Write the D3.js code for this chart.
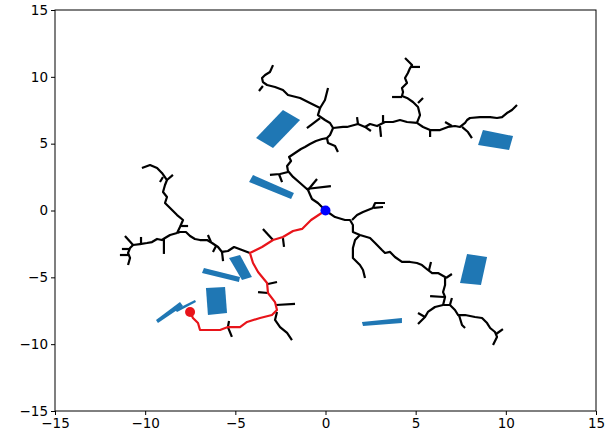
<!DOCTYPE html>
<html><head><meta charset="utf-8">
<script src="https://cdn.jsdelivr.net/npm/d3@7"></script>
<style>body{margin:0;background:#fff} text{font-family:"DejaVu Sans",sans-serif;}</style>
</head><body><svg id="c" width="615" height="439"></svg>
<script>
const xTicks=[-15,-10,-5,0,5,10,15];
const yTicks=[-15,-10,-5,0,5,10,15];

// obstacle polygons (data units)
const obstacles=[
 [[-2.36,7.52],[-1.41,6.77],[-2.91,4.68],[-3.85,5.42]],
 [[-4.02,2.66],[-1.75,1.31],[-1.91,0.86],[-4.24,2.13]],
 [[-6.74,-4.30],[-4.74,-4.97],[-4.80,-5.35],[-6.85,-4.68]],
 [[-5.35,-3.55],[-4.74,-3.33],[-4.08,-4.97],[-4.63,-5.20]],
 [[-6.63,-5.80],[-5.57,-5.72],[-5.46,-7.67],[-6.52,-7.82]],
 [[-9.40,-8.19],[-8.07,-6.85],[-7.90,-7.14],[-9.29,-8.42]],
 [[-8.35,-7.44],[-7.24,-6.70],[-7.18,-6.85],[-8.23,-7.59]],
 [[7.85,-3.25],[8.96,-3.48],[8.62,-5.57],[7.46,-5.42]],
 [[2.02,-8.34],[4.24,-8.04],[4.24,-8.42],[2.08,-8.64]],
 [[8.73,6.02],[10.40,5.57],[10.18,4.53],[8.46,4.90]]
];

// tree branches (data units)
const treeBranches=[
 [[0,0],[-0.42,0.56],[-0.75,0.86],[-0.97,1.53],[-1.41,2.06],[-1.80,2.51],[-2.08,2.95],[-2.13,3.33],[-1.91,3.70],[-2.02,4.00],[-1.69,4.30],[-1.36,4.60],[-1.14,4.75],[-0.86,4.97],[-0.53,5.20],[-0.19,5.35],[0.08,5.42],[0.25,5.65],[0.42,6.17]],
 [[-0.97,1.53],[-0.47,2.36]],
 [[-1.08,1.61],[0.30,1.83]],
 [[-2.08,2.88],[-2.52,2.73],[-3.08,2.66]],
 [[-2.58,2.73],[-2.41,2.13]],
 [[0.08,5.42],[0.14,5.05],[0.53,4.83],[0.69,4.38]],
 [[0.42,6.17],[0.25,6.55],[-0.03,6.77],[-0.42,7.14],[-0.30,7.67],[-0.86,8.04],[-1.41,8.42],[-2.08,8.64],[-2.36,9.01],[-2.80,9.24],[-3.24,9.39],[-3.47,9.61],[-3.52,9.91],[-3.35,10.14],[-3.08,10.36],[-2.91,10.88]],
 [[-0.30,7.67],[-0.03,8.27],[0.14,9.16]],
 [[-3.47,9.31],[-3.69,8.94]],
 [[-0.30,6.92],[-1.03,6.17]],
 [[0.42,6.17],[0.97,6.25],[1.19,6.25],[1.80,6.47],[2.19,6.25],[2.47,6.47],[2.86,6.32],[3.30,6.62],[3.74,6.62],[4.13,6.77],[4.52,6.62],[5.07,6.55]],
 [[1.80,6.47],[1.75,6.99]],
 [[2.19,6.25],[2.52,5.95]],
 [[3.19,6.62],[3.19,7.14]],
 [[3.02,6.32],[3.08,5.50]],
 [[5.07,6.55],[5.24,7.14],[5.13,7.74],[4.85,8.12],[4.52,8.42],[4.24,8.57],[4.30,8.87],[4.24,9.16],[4.52,9.54],[4.41,9.91],[4.57,10.29],[4.69,10.66],[4.80,10.88],[4.41,11.41]],
 [[4.69,10.74],[5.24,10.74]],
 [[4.24,8.49],[3.69,8.49]],
 [[5.13,8.04],[5.41,8.42]],
 [[5.07,6.55],[5.41,6.25],[5.80,6.02],[6.35,6.02],[6.79,6.25],[7.18,6.32],[7.46,6.25],[7.74,6.55],[7.85,6.77],[8.01,6.92],[8.57,6.99],[9.13,6.99],[9.51,6.92],[9.79,6.99],[10.06,7.29],[10.34,7.52],[10.62,7.89]],
 [[5.80,6.02],[5.80,5.50]],
 [[7.01,6.32],[6.63,6.62]],
 [[7.57,6.25],[7.90,5.87],[8.12,5.42]],
 [[0,0],[0.53,-0.49],[1.08,-0.71],[1.36,-0.71],[1.52,-1.08],[1.52,-1.61],[1.91,-1.83],[2.47,-2.06],[2.75,-2.43],[3.13,-2.96],[3.30,-3.18],[3.58,-3.10],[3.85,-3.48],[4.24,-3.85],[4.69,-3.85],[5.07,-3.93],[5.35,-4.08],[5.68,-4.45],[5.91,-4.68],[6.24,-4.68],[6.63,-4.97],[6.63,-5.57],[6.52,-6.10],[6.63,-6.47],[6.52,-7.07]],
 [[6.52,-7.07],[6.90,-7.07],[7.18,-7.44],[7.35,-7.82],[7.74,-7.82],[8.29,-7.97],[8.68,-8.04],[8.96,-8.42],[9.13,-8.79],[9.40,-9.09],[9.51,-9.46],[9.29,-10.06]],
 [[6.52,-7.07],[6.07,-7.22],[5.68,-7.59],[5.52,-7.97],[5.24,-8.34],[5.13,-8.49]],
 [[1.47,-0.71],[1.75,-0.34],[2.08,-0.11],[2.63,0.19],[2.75,0.56],[3.30,0.56]],
 [[2.69,0.19],[3.19,0.26]],
 [[1.91,-1.83],[1.64,-2.21],[1.52,-2.81],[1.52,-3.55],[1.91,-4.08],[2.08,-4.45],[2.19,-5.05]],
 [[5.74,-4.45],[5.85,-3.85]],
 [[6.68,-5.05],[7.01,-4.75]],
 [[6.57,-6.47],[5.80,-6.40]],
 [[6.90,-7.07],[7.01,-6.55]],
 [[5.52,-7.97],[5.13,-7.67]],
 [[7.40,-7.82],[7.57,-8.57],[7.74,-8.79]],
 [[9.46,-9.24],[9.84,-8.87]],
 [[-4.19,-3.18],[-4.63,-2.96],[-5.07,-2.73],[-5.41,-3.03],[-5.74,-3.10],[-5.96,-2.73],[-6.29,-2.43],[-6.57,-2.21],[-6.96,-2.21],[-7.24,-2.13],[-7.51,-1.91],[-7.74,-1.61],[-8.07,-1.61],[-8.23,-1.68]],
 [[-5.74,-3.10],[-5.68,-3.78]],
 [[-6.35,-2.36],[-6.52,-1.83]],
 [[-6.07,-2.66],[-6.24,-3.10]],
 [[-2.91,-2.21],[-3.47,-1.38]],
 [[-2.36,-2.06],[-2.30,-2.73]],
 [[-8.23,-1.68],[-8.07,-1.23],[-7.90,-0.71],[-8.23,-0.34],[-8.62,0.19],[-8.90,0.56],[-8.79,1.01],[-9.01,1.38],[-8.90,1.91],[-8.79,2.28],[-9.07,2.81],[-9.34,3.18],[-9.73,3.40],[-10.18,3.18]],
 [[-8.79,2.28],[-8.46,2.66]],
 [[-9.01,2.51],[-9.18,2.13]],
 [[-8.01,-1.16],[-7.62,-1.16]],
 [[-8.23,-1.68],[-8.62,-1.83],[-8.90,-2.06],[-9.07,-2.21],[-9.34,-2.13],[-9.62,-2.36],[-9.90,-2.43],[-10.29,-2.51],[-10.67,-2.58],[-10.84,-2.81],[-10.95,-3.18],[-10.84,-3.55],[-10.95,-4.08]],
 [[-8.96,-2.13],[-8.96,-3.25]],
 [[-10.23,-2.51],[-10.23,-1.98]],
 [[-10.67,-2.58],[-11.12,-1.91]],
 [[-10.84,-2.88],[-11.29,-2.88]],
 [[-10.90,-3.33],[-11.40,-3.33]],
 [[-2.75,-7.07],[-1.69,-6.99]],
 [[-2.69,-7.59],[-2.80,-8.19],[-2.52,-8.72],[-2.13,-9.16],[-1.86,-9.69]],
 [[-3.19,-5.50],[-2.69,-5.35]],
 [[-3.19,-6.17],[-3.74,-6.10]],
 [[-5.35,-8.27],[-5.41,-8.72],[-5.19,-9.46]]
];

// found path from start to goal
const pathPoints=[[0,0],[-0.30,-0.26],[-0.80,-0.71],[-1.30,-1.38],[-1.80,-1.53],[-2.36,-1.98],[-2.91,-2.21],[-3.52,-2.73],[-4.19,-3.18],[-4.02,-3.93],[-3.74,-4.60],[-3.24,-5.42],[-3.19,-6.17],[-2.80,-6.85],[-2.69,-7.44],[-2.97,-7.82],[-3.63,-8.04],[-4.35,-8.34],[-4.74,-8.72],[-5.41,-8.72],[-5.85,-8.94],[-6.57,-8.94],[-6.96,-8.94],[-7.07,-8.42],[-7.35,-8.04],[-7.51,-7.59]];
const startPoint=[0,0];
const goalPoint=[-7.51,-7.59];

const svg=d3.select("#c");
const L=55,R=596,T=10,B=411;
const x=d3.scaleLinear().domain([-15,15]).range([L,R]);
const y=d3.scaleLinear().domain([-15,15]).range([B,T]);
const line=d3.line().x(d=>x(d[0])).y(d=>y(d[1]));

svg.append("clipPath").attr("id","clp").append("rect").attr("x",L).attr("y",T).attr("width",R-L).attr("height",B-T);
const g=svg.append("g").attr("clip-path","url(#clp)");

g.selectAll("polygon.obs").data(obstacles).enter().append("polygon")
 .attr("points",d=>d.map(p=>x(p[0])+","+y(p[1])).join(" "))
 .attr("fill","#1f77b4");

g.selectAll("path.tree").data(treeBranches).enter().append("path")
 .attr("d",line).attr("fill","none").attr("stroke","#000").attr("stroke-width",2.2)
 .attr("stroke-linejoin","round").attr("stroke-linecap","butt");

g.append("path").datum(pathPoints).attr("d",line).attr("fill","none")
 .attr("stroke","#e8141a").attr("stroke-width",2.2).attr("stroke-linejoin","round");

g.append("circle").attr("cx",x(startPoint[0])).attr("cy",y(startPoint[1])).attr("r",5).attr("fill","#0000ff");
g.append("circle").attr("cx",x(goalPoint[0])).attr("cy",y(goalPoint[1])).attr("r",5).attr("fill","#e8141a");

const fmt=d=>d3.format("d")(d);
const xa=svg.append("g").attr("transform",`translate(0,${B})`)
 .call(d3.axisBottom(x).tickValues(xTicks).tickSize(4).tickPadding(3).tickFormat(fmt));
const ya=svg.append("g").attr("transform",`translate(${L},0)`)
 .call(d3.axisLeft(y).tickValues(yTicks).tickSize(4).tickPadding(3).tickFormat(fmt));
[xa,ya].forEach(a=>{a.select(".domain").remove();a.selectAll("text").attr("font-size",13.5).attr("font-family","DejaVu Sans").attr("fill","#000");a.selectAll("line").attr("stroke","#000");});

svg.append("rect").attr("x",L).attr("y",T).attr("width",R-L).attr("height",B-T)
 .attr("fill","none").attr("stroke","#000").attr("stroke-width",1);
</script></body></html>
